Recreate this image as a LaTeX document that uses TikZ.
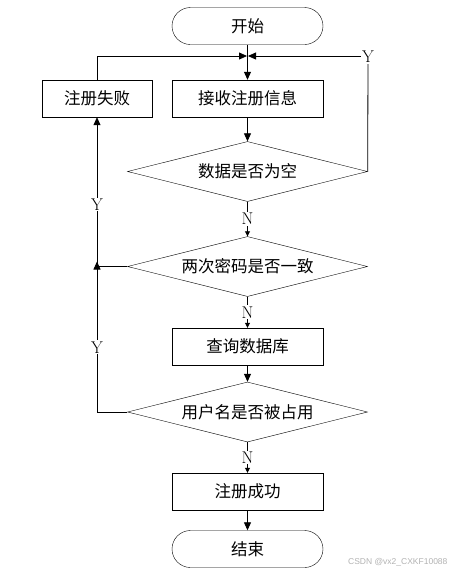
\documentclass[tikz,border=0pt]{standalone}
\usepackage{fontspec}
\newfontfamily\cjk{Noto Sans CJK SC}
\newfontfamily\wmfont{Liberation Sans}
\usetikzlibrary{shapes.geometric,arrows.meta}
\begin{document}
\begin{tikzpicture}[x=1pt,y=-1pt,
  every node/.style={font=\fontsize{17}{19}\selectfont},
  term/.style={draw,rounded corners=18.5pt,minimum width=151pt,minimum height=37pt,inner sep=0pt,font=\cjk\fontsize{16.5}{18}\selectfont},
  proc/.style={draw,minimum width=151pt,minimum height=37pt,inner sep=0pt,font=\cjk\fontsize{16.5}{18}\selectfont},
  dec/.style={draw,diamond,aspect=4,minimum width=240pt,minimum height=60pt,inner sep=0pt,font=\cjk\fontsize{16.5}{18}\selectfont},
  lbl/.style={fill=white,inner sep=1pt,font=\fontsize{17}{19}\selectfont},
  conn/.style={line width=0.8pt,-{Triangle[length=8pt,width=7pt]}},
  connsm/.style={line width=0.8pt,-{Triangle[length=5pt,width=5pt]}},
  plain/.style={line width=0.8pt}]
\useasboundingbox (0,0) rectangle (454,574);
\node[term] (start) at (247.5,26) {开始};
\node[proc,minimum width=110pt] (fail) at (97,98.5) {注册失败};
\node[proc] (recv) at (247.5,98.5) {接收注册信息};
\node[dec] (d1) at (247.5,171.5) {数据是否为空};
\node[dec] (d2) at (247.5,266.5) {两次密码是否一致};
\node[proc] (query) at (247.5,346.5) {查询数据库};
\node[dec] (d3) at (247.5,412) {用户名是否被占用};
\node[proc] (ok) at (247.5,491.5) {注册成功};
\node[term] (end) at (247.5,549) {结束};

\coordinate (jn) at (247.5,56);
\coordinate (tl) at (97,56);
\coordinate (tr) at (368,56);
\coordinate (ml) at (97,266.5);
\coordinate (bl) at (97,412);

% main flow
\draw[conn] (start.south) -- (recv.north);
\draw[conn] (recv.south) -- (d1.north);
\draw[connsm] (d1.south) -- node[lbl]{N} (d2.north);
\draw[connsm] (d2.south) -- node[lbl]{N} (query.north);
\draw[conn] (query.south) -- (d3.north);
\draw[connsm] (d3.south) -- node[lbl]{N} (ok.north);
\draw[conn] (ok.south) -- (end.north);

% failure loop back to top
\draw[plain] (fail.north) -- (tl);
\draw[conn] (tl) -- ([xshift=-0.5pt]jn);
\draw[plain] (d1.east) -- (tr);
\draw[conn] (tr) -- ([xshift=0.5pt]jn);
\node[lbl] at (368,57) {Y};

% Y branches on left
\draw[plain] (d3.west) -- (bl) -- (ml) node[lbl,pos=0.445]{Y};
\draw[conn] (ml) -- node[lbl,pos=0.416]{Y} (fail.south);
\draw[plain] (d2.west) -- (ml);
\draw[conn] (ml) -- ++(0,-5);

\node[text=gray!60,font=\wmfont\fontsize{8.5}{9}\selectfont,anchor=east] (wm) at (451,562) {CSDN @vx2\_CXKF10088};
\end{tikzpicture}
\end{document}
